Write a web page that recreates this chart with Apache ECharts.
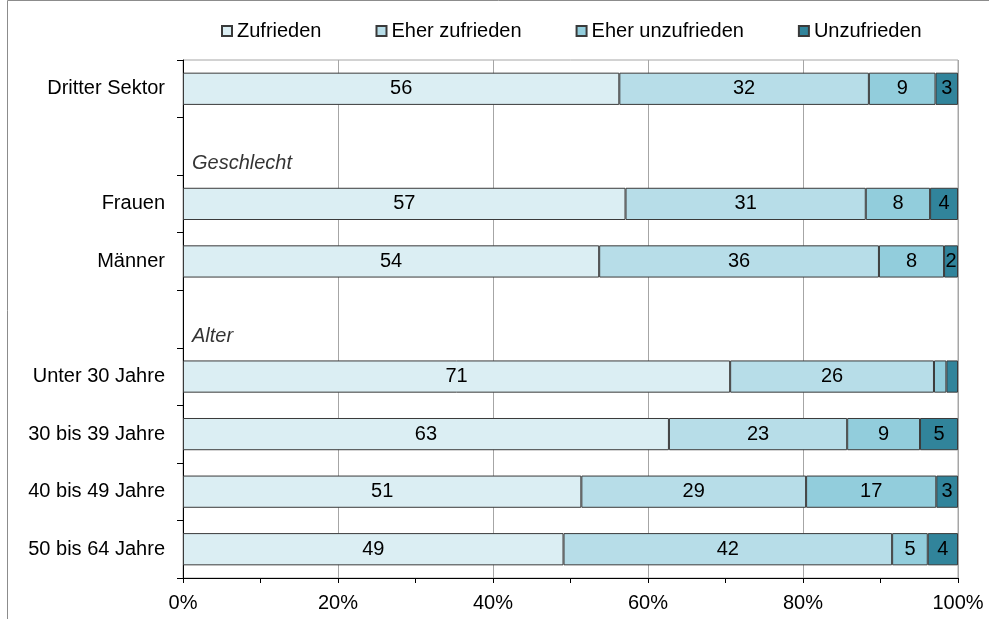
<!DOCTYPE html>
<html>
<head>
<meta charset="utf-8">
<script src="https://cdn.jsdelivr.net/npm/echarts@6/dist/echarts.min.js"></script>
<style>
  html, body { margin: 0; padding: 0; background: #fff; }
  #chart { width: 989px; height: 619px; }
</style>
</head>
<body>
<div id="chart"></div>
<script>
// Kategorien (leere Zeilen = Abstand für Gruppenüberschriften)
const categories = ['Dritter Sektor', '', 'Frauen', 'Männer', '', 'Unter 30 Jahre', '30 bis 39 Jahre', '40 bis 49 Jahre', '50 bis 64 Jahre']
const seriesNames = ['Zufrieden', 'Eher zufrieden', 'Eher unzufrieden', 'Unzufrieden']
const seriesColors = ['#dbeef3', '#b7dde8', '#92cddc', '#31849b']

// Anteile in Prozent
const zufrieden = [56.3, null, 57.1, 53.7, null, 70.6, 62.7, 51.4, 49.1]
const eherZufrieden = [32.2, null, 31.0, 36.1, null, 26.3, 23.0, 29.0, 42.4]
const eherUnzufrieden = [8.6, null, 8.3, 8.4, null, 1.6, 9.4, 16.8, 4.6]
const unzufrieden = [2.9, null, 3.6, 1.8, null, 1.5, 4.9, 2.8, 3.9]

// Gruppenüberschriften in den leeren Zeilen
const groupLabels = [
    { row: 1, text: 'Geschlecht' },
    { row: 4, text: 'Alter' }
]

const xTicks = [0, 20, 40, 60, 80, 100]

const font = 'Liberation Sans, Arial, sans-serif'
const fs = 20

const makeBar = (name, values, color) => ({
    name,
    type: 'bar',
    stack: 'total',
    barCategoryGap: '44%',
    data: values,
    itemStyle: { color, borderColor: '#3a3a3a', borderWidth: 1 },
    label: {
        show: true,
        position: 'inside',
        color: '#000',
        fontFamily: font,
        fontSize: fs,
        // sehr schmale Segmente bleiben ohne Beschriftung
        formatter: p => (p.value == null || p.value < 1.75) ? '' : String(Math.round(p.value))
    },
    emphasis: { disabled: true }
})

const getOption = () => ({
    animation: false,
    textStyle: { fontFamily: font },
    graphic: [{
        type: 'rect',
        shape: { x: 7.5, y: 0.5, width: 1100, height: 800 },
        style: { fill: 'none', stroke: '#8c8c8c', lineWidth: 1 },
        silent: true
    }],
    legend: {
        data: seriesNames.map(n => ({ name: n, icon: 'rect' })),
        left: 216,
        top: 16,
        itemWidth: 10,
        itemHeight: 10,
        itemGap: 54,
        textStyle: { color: '#000', fontSize: fs, fontFamily: font }
    },
    grid: {
        left: 183,
        right: 31,
        top: 60,
        bottom: 41,
        show: true,
        borderColor: '#a6a6a6',
        borderWidth: 1
    },
    xAxis: {
        type: 'value',
        min: xTicks[0],
        max: xTicks[xTicks.length - 1],
        interval: 20,
        axisLine: { show: true, lineStyle: { color: '#000', width: 1 } },
        axisTick: { show: true, length: 5, lineStyle: { color: '#000' } },
        minorTick: { show: true, splitNumber: 2, length: 5, lineStyle: { color: '#000' } },
        axisLabel: { color: '#000', fontSize: fs, margin: 15, formatter: '{value}%' },
        splitLine: { show: true, lineStyle: { color: '#a6a6a6', width: 1 } }
    },
    yAxis: {
        type: 'category',
        inverse: true,
        data: categories,
        axisLine: { show: true, lineStyle: { color: '#000', width: 1 } },
        axisTick: { show: true, length: 6, lineStyle: { color: '#000' } },
        axisLabel: { color: '#000', fontSize: fs, margin: 18 }
    },
    series: [
        makeBar(seriesNames[0], zufrieden, seriesColors[0]),
        makeBar(seriesNames[1], eherZufrieden, seriesColors[1]),
        makeBar(seriesNames[2], eherUnzufrieden, seriesColors[2]),
        makeBar(seriesNames[3], unzufrieden, seriesColors[3]),
        {
            name: 'Gruppen',
            type: 'scatter',
            symbolSize: 0,
            silent: true,
            data: groupLabels.map(g => ({ value: [0, g.row], name: g.text })),
            label: {
                show: true,
                position: 'right',
                distance: 0,
                offset: [9, 17],
                color: '#000',
                fontStyle: 'italic',
                fontSize: fs,
                fontFamily: font,
                formatter: p => p.name
            }
        }
    ]
})

const chart = echarts.init(document.getElementById('chart'))
chart.setOption(getOption())
</script>
</body>
</html>
